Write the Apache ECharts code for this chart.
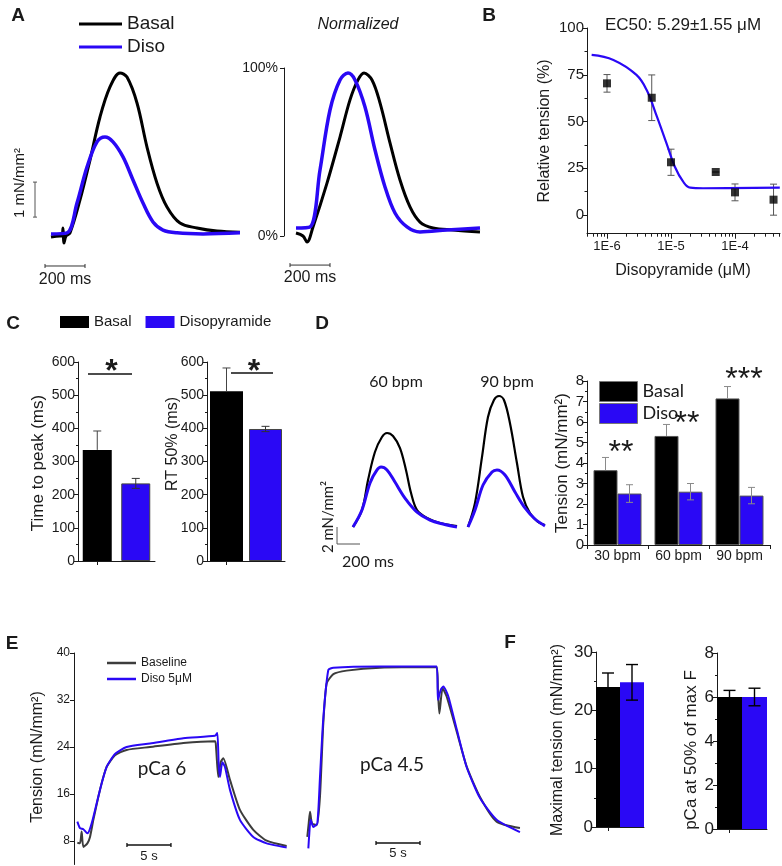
<!DOCTYPE html>
<html><head><meta charset="utf-8">
<script src="https://cdn.jsdelivr.net/npm/echarts@6/dist/echarts.min.js"></script>
<style>html,body{margin:0;padding:0;background:#fff}#c{width:782px;height:866px}</style>
</head><body><div id="c"></div>
<script>
// ===================== DATA =====================
// Panel A: twitch traces (time in ms, tension in mN/mm²)
const aRawBasalT = [0,45,55,60,65,75,95,145,195,245,295,345,380,430,480,530,580,645,730,830,945];
const aRawBasalV = [-0.03,0,0,0.23,-0.2,0,0.09,1.03,2.17,3.4,4.26,4.66,4.54,3.8,2.54,1.51,0.83,0.37,0.23,0.14,0.11];
const aRawDisoT = [0,80,130,180,230,270,310,360,410,460,510,560,630,760,945];
const aRawDisoV = [0.06,0.09,0.94,1.97,2.69,2.83,2.69,2.26,1.6,0.94,0.4,0.17,0.09,0.06,0.09];
// Panel A: normalized traces (time ms, % of peak)
const aNormBasalT = [0,35,55,85,155,220,270,310,340,380,420,470,520,570,620,685,785,920];
const aNormBasalV = [1.8,0,-3.6,5.4,31.5,58.9,81,92.9,97,92.9,79.2,55.4,33.3,17.3,8.3,4.8,3.6,2.4];
const aNormDisoT = [0,70,120,170,220,260,295,345,395,445,495,555,620,755,920];
const aNormDisoV = [4.8,5.4,39.3,75,92.9,97,92.9,76.8,51.2,29.2,13.7,5.4,2.4,3.6,4.8];
const aNormTicks = [0,100];
// Panel A scale bars: [x1,y1,x2,y2] in data units
const aRawScaleV = [[-80,0.54,-80,1.54]];
const aRawScaleH = [[-30,-0.857,170,-0.857]];
const aNormScaleH = [[-30,-17.3,170,-17.3]];

// Panel B: dose-response
const bConc = [1e-6,5e-6,1e-5,5e-5,1e-4,4e-4];
const bMean = [70.4,62.7,28.2,23.0,12.1,8.2];
const bSem  = [4.7,12.2,7.0,0,4.5,8.3];
const bFitLogConc = [-6.24,-5.90,-5.54,-5.38,-5.22,-5.07,-4.94,-4.81,-4.70,-4.50,-3.30];
const bFitTension = [85.6,82.9,74.9,66.8,52.6,38.3,25.8,17.8,14.6,14.3,14.6];
const bXTicks = [-6,-5,-4];
const bYTicks = [0,25,50,75,100];

// Panel C
const cCats = ['Basal','Disopyramide'];
const cTtpMean = [335,234];
const cTtpSem  = [57,15];
const cRtMean  = [512,398];
const cRtSem   = [70,8];

// Panel D traces (ms, mN/mm²)
const d60BasalT = [0,78,131,191,252,296,348,409,461,505,557,644,757,905];
const d60BasalV = [0,2.0,5.53,8.82,10.59,11.06,10.71,9.29,6.71,4.0,2.0,1.06,0.47,0.12];
const d60DisoT  = [0,78,148,209,244,296,365,452,557,670,783,905];
const d60DisoV  = [0,2.0,5.18,6.71,7.06,6.71,5.29,3.41,1.76,0.82,0.35,0];
const d90BasalT = [0,61,122,174,226,270,313,365,426,479,539,609,670];
const d90BasalV = [0,2.82,8.24,12.94,14.94,15.41,14.94,12.24,7.53,3.53,1.65,0.59,0.24];
const d90DisoT  = [0,61,131,209,252,322,409,496,583,670];
const d90DisoV  = [0,2.0,4.94,6.47,6.71,6.12,4.12,2.24,0.94,0.12];
const dScale = [[-139,0,-139,-2],[-139,-2,61,-2]];
// Panel D bars
const dCats = ['30 bpm','60 bpm','90 bpm'];
const dBasal = [3.65,5.32,7.15];
const dBasalSem = [0.62,0.56,0.58];
const dDiso = [2.51,2.6,2.41];
const dDisoSem = [0.43,0.4,0.4];

// Panel E: force traces (time s, tension mN/mm²)
const e6BaseT = [0.38,0.68,0.87,1.06,1.52,1.82,2.2,2.95,3.71,4.66,5.98,8.64,12.42,16.02,16.14,16.4,16.67,16.97,17.73,18.86,20.38,21.9,24.17];
const e6BaseV = [7.7,7.6,9.6,7.0,7.6,8.7,11.6,16.7,20.6,22.6,23.5,24.0,24.7,25.0,24.0,18.9,21.4,22.1,18.4,13.3,9.9,8.05,7.15];
const e6DisoT = [0.38,0.68,1.06,1.52,2.01,2.95,3.71,4.66,5.98,8.64,12.42,16.02,16.29,16.44,16.59,16.86,17.16,17.73,18.86,20.38,21.9,24.17];
const e6DisoV = [11.3,10.2,10.0,9.3,11.0,16.7,20.6,22.8,24.0,24.6,25.5,25.9,26.4,21.2,18.9,21.4,20.6,16.7,11.6,8.7,7.6,6.9];
const e45BaseT = [0.26,0.42,0.57,0.8,1.33,1.7,2.08,2.46,3.22,4.73,8.52,14.96,15.11,15.27,15.64,16.1,17.23,18.37,19.89,21.78,24.43];
const e45BaseV = [8.7,11.0,13.0,11.0,10.7,15.5,28.0,34.8,36.4,37.0,37.5,37.6,33.7,29.7,34.0,32.6,26.7,20.7,15.5,11.3,10.2];
const e45DisoT = [0.38,0.49,0.64,0.95,1.4,1.7,2.08,2.65,3.22,8.52,14.96,15.11,15.42,15.72,16.29,17.23,18.37,19.89,21.78,24.43];
const e45DisoV = [6.75,9.3,11.6,10.4,11.0,18.8,28.9,37.1,37.5,37.7,37.7,32.0,33.7,34.3,32.6,27.1,20.6,15.3,11.6,9.5];
const eYTicks = [8,16,24,32,40];
const e6Scale = [[6.02,7.32,11.02,7.32]];
const e45Scale = [[8.07,7.66,13.07,7.66]];

// Panel F
const fCats = ['Basal','Diso'];
const fTension = [24.0,24.8];
const fTensionSem = [2.4,3.05];
const fPca = [6.0,6.0];
const fPcaSem = [0.3,0.4];

// ===================== STYLE =====================
const FONT = '"Liberation Sans", Arial, sans-serif';
const FONT2 = 'Lato, "Open Sans", sans-serif';
const BLUE = '#2a08f5';
const GRAY = '#3c3c3c';
const AX = '#1a1a1a';
const TXT = '#1a1a1a';

const zip = (a, b) => a.map((v, i) => [v, b[i]]);

function hid(gi, min, max) { return {type:'value', gridIndex:gi, min, max, show:false}; }
function valAxis(gi, o) {
  const ax = {
    type:'value', gridIndex:gi, min:o.min, max:o.max, position:o.position,
    axisLine:{show:true, onZero:false, lineStyle:{color:AX, width:1}},
    axisTick:{show:true, inside:false, length:o.tickLen || 4, lineStyle:{color:AX, width:1}},
    axisLabel:{show:true, fontSize:o.fs || 14, color:TXT, fontFamily:FONT, margin:o.margin || 3},
    splitLine:{show:false}
  };
  if (o.interval) ax.interval = o.interval;
  if (o.custom) { ax.axisTick.customValues = o.custom; ax.axisLabel.customValues = o.custom; }
  if (o.fmt) ax.axisLabel.formatter = o.fmt;
  if (o.minor) ax.minorTick = {show:true, splitNumber:o.minor, length:2, lineStyle:{color:AX}};
  if (o.offset) ax.offset = o.offset;
  return ax;
}
function catAxis(gi, cats, o) {
  return {
    type:'category', gridIndex:gi, data:cats, position:'bottom',
    axisLine:{show:true, onZero:false, lineStyle:{color:AX, width:1}},
    axisTick:{show:true, alignWithLabel:!!o.align, length:4, lineStyle:{color:AX}},
    axisLabel:{show:!!o.labels, fontSize:o.fs || 14, color:TXT, fontFamily:FONT, margin:4},
    splitLine:{show:false}
  };
}
function line(name, xi, yi, t, v, color, width, smooth) {
  return {type:'line', name, xAxisIndex:xi, yAxisIndex:yi, data:zip(t, v), color,
    showSymbol:false, symbol:'none', smooth: smooth === undefined ? 0.35 : smooth,
    lineStyle:{color, width}, itemStyle:{color}, clip:false, silent:true, animation:false, z:3};
}
function errBars(xi, yi, xs, means, sems, o) {
  const data = xs.map((x, i) => [x, o.upperOnly ? means[i] : means[i] - sems[i], means[i] + sems[i]]);
  return {type:'custom', xAxisIndex:xi, yAxisIndex:yi, silent:true, animation:false, z:o.z || 4, clip:false,
    encode:{x:0, y:[1,2]}, data,
    renderItem:(p, api) => {
      const x = api.value(0), lo = api.value(1), hi = api.value(2);
      const a = api.coord([x, lo]), b = api.coord([x, hi]);
      const cx = a[0] + (o.offset || 0), w = o.cap;
      const st = {stroke:o.color, lineWidth:o.width || 1};
      const ch = [
        {type:'line', shape:{x1:cx, y1:a[1], x2:cx, y2:b[1]}, style:st},
        {type:'line', shape:{x1:cx - w, y1:b[1], x2:cx + w, y2:b[1]}, style:st}];
      if (!o.upperOnly) ch.push({type:'line', shape:{x1:cx - w, y1:a[1], x2:cx + w, y2:a[1]}, style:st});
      return {type:'group', children:ch};
    }};
}
function scaleBar(xi, yi, segs, o) {
  return {type:'custom', xAxisIndex:xi, yAxisIndex:yi, silent:true, animation:false, clip:false,
    encode:{x:[0,2], y:[1,3]}, data:segs,
    renderItem:(p, api) => {
      const a = api.coord([api.value(0), api.value(1)]), b = api.coord([api.value(2), api.value(3)]);
      const st = {stroke:o.color || '#333', lineWidth:o.width || 1};
      const ch = [{type:'line', shape:{x1:a[0], y1:a[1], x2:b[0], y2:b[1]}, style:st}];
      if (o.cap) {
        const c = o.cap;
        if (Math.abs(a[0] - b[0]) < 0.5) {
          ch.push({type:'line', shape:{x1:a[0]-c, y1:a[1], x2:a[0]+c, y2:a[1]}, style:st});
          ch.push({type:'line', shape:{x1:b[0]-c, y1:b[1], x2:b[0]+c, y2:b[1]}, style:st});
        } else {
          ch.push({type:'line', shape:{x1:a[0], y1:a[1]-c, x2:a[0], y2:a[1]+c}, style:st});
          ch.push({type:'line', shape:{x1:b[0], y1:b[1]-c, x2:b[0], y2:b[1]+c}, style:st});
        }
      }
      return {type:'group', children:ch};
    }};
}
function txt(x, y, text, size, o) {
  o = o || {};
  return {type:'text', x, y, rotation:o.rot || 0, z:100, silent:true,
    style:{text, fontSize:size, fontFamily:o.font || FONT, fontWeight:o.bold ? 'bold' : 'normal',
      fontStyle:o.italic ? 'italic' : 'normal', fill:o.color || TXT,
      textAlign:o.align || 'center', textVerticalAlign:'middle'}};
}
function hline(x1, x2, y) {
  return {type:'line', z:100, silent:true, shape:{x1, y1:y, x2, y2:y}, style:{stroke:'#111', lineWidth:1.3}};
}

// ===================== GRIDS =====================
const G = (left, top, width, height) => ({left, top, width, height, containLabel:false, outerBoundsMode:'none'});
const grids = [
  G(51, 61, 190, 175),      // 0 A raw
  G(296, 68, 184, 168),     // 1 A normalized
  G(587, 28, 193, 205.7),   // 2 B
  G(78, 362, 77, 199),      // 3 C ttp
  G(207, 362, 78, 199),     // 4 C rt50
  G(353, 382.5, 104, 144.5),// 5 D 60 bpm
  G(468, 382.5, 78, 144.5), // 6 D 90 bpm
  G(587, 381, 183, 164),    // 7 D bars
  G(74, 653, 216, 211.5),   // 8 E pCa6
  G(305, 653, 216, 211.5),  // 9 E pCa4.5
  G(596, 652, 48, 175),     // 10 F tension
  G(717, 653, 50, 176)      // 11 F pCa50
];

const bMinorX = [];
for (let n = -7; n <= -4; n++) for (let k = 2; k <= 9; k++) {
  const v = n + Math.log10(k);
  if (v > -6.3125 && v < -3.297) bMinorX.push(v);
}

const xAxes = [
  hid(0, 0, 950),
  hid(1, 0, 920),
  valAxis(2, {min:-6.3125, max:-3.297, custom:bXTicks, fmt:v => '1E' + v, fs:13, tickLen:5, margin:6, position:'bottom'}),
  catAxis(3, cCats, {align:true}),
  catAxis(4, cCats, {align:true}),
  hid(5, 0, 905),
  hid(6, 0, 679),
  catAxis(7, dCats, {labels:true, fs:14}),
  hid(8, 0, 24.55),
  hid(9, 0, 24.55),
  catAxis(10, fCats, {align:true}),
  catAxis(11, fCats, {align:true}),
  {type:'value', gridIndex:2, min:-6.3125, max:-3.297, position:'bottom', axisLine:{show:false, onZero:false}, axisLabel:{show:false},
   axisTick:{show:true, customValues:bMinorX, length:3, lineStyle:{color:AX}}, splitLine:{show:false}}
];
const yAxes = [
  hid(0, 0, 5),
  valAxis(1, {min:0, max:100, custom:aNormTicks, fmt:v => v + '%', fs:14, offset:12, margin:6, position:'left'}),
  valAxis(2, {min:-10, max:100, custom:bYTicks, fs:15, margin:3, position:'left'}),
  valAxis(3, {min:0, max:600, interval:100, minor:2, fs:14, position:'left'}),
  valAxis(4, {min:0, max:600, interval:100, minor:2, fs:14, position:'left'}),
  hid(5, 0, 17),
  hid(6, 0, 17),
  valAxis(7, {min:0, max:8, interval:1, minor:2, fs:15, position:'left'}),
  valAxis(8, {min:4, max:40, custom:eYTicks, fs:12, margin:4, position:'left'}),
  hid(9, 4, 40),
  valAxis(10, {min:0, max:30, interval:10, minor:2, fs:17, position:'left'}),
  valAxis(11, {min:0, max:8, interval:2, minor:2, fs:17, position:'left'}),
  {type:'value', gridIndex:2, min:-10, max:100, position:'left', axisLine:{show:false, onZero:false}, axisLabel:{show:false},
   axisTick:{show:true, customValues:[12.5,37.5,62.5,87.5], length:2.5, lineStyle:{color:AX}}, splitLine:{show:false}}
];

// ===================== SERIES =====================
const bar = (name, xi, yi, data, color, width, gap, border) => ({
  type:'bar', name, xAxisIndex:xi, yAxisIndex:yi, data, barWidth:width, barGap:gap, color,
  itemStyle:{color, borderColor:border || color, borderWidth:border ? 1 : 0}, silent:true, animation:false, z:2});

const series = [
  // A
  line('Basal', 0, 0, aRawBasalT, aRawBasalV, '#000', 3),
  line('Diso', 0, 0, aRawDisoT, aRawDisoV, BLUE, 3.5),
  line('Basal', 1, 1, aNormBasalT, aNormBasalV, '#000', 3),
  line('Diso', 1, 1, aNormDisoT, aNormDisoV, BLUE, 3.5),
  scaleBar(0, 0, aRawScaleV, {cap:2, color:'#555'}),
  scaleBar(0, 0, aRawScaleH, {cap:2, color:'#333'}),
  scaleBar(1, 1, aNormScaleH, {cap:2, color:'#333'}),
  // B
  errBars(2, 2, bConc.map(Math.log10), bMean, bSem, {cap:3.5, color:'#555', z:3}),
  line('fit', 2, 2, bFitLogConc, bFitTension, BLUE, 2.2, 0.4),
  {type:'scatter', xAxisIndex:2, yAxisIndex:2, data:zip(bConc.map(Math.log10), bMean), symbol:'rect', symbolSize:8,
   itemStyle:{color:'#000'}, silent:true, animation:false, z:5},
  // C
  bar('Basal', 3, 3, [cTtpMean[0], '-'], '#000', 29, '-100%'),
  bar('Disopyramide', 3, 3, ['-', cTtpMean[1]], BLUE, 29, '-100%', '#444'),
  errBars(3, 3, [0], [cTtpMean[0]], [cTtpSem[0]], {cap:4, color:'#444', upperOnly:true}),
  errBars(3, 3, [1], [cTtpMean[1]], [cTtpSem[1]], {cap:4, color:'#333'}),
  bar('Basal', 4, 4, [cRtMean[0], '-'], '#000', 33, '-100%'),
  bar('Disopyramide', 4, 4, ['-', cRtMean[1]], BLUE, 33, '-100%', '#444'),
  errBars(4, 4, [0], [cRtMean[0]], [cRtSem[0]], {cap:4, color:'#444', upperOnly:true}),
  errBars(4, 4, [1], [cRtMean[1]], [cRtSem[1]], {cap:4, color:'#333'}),
  // D traces
  line('Basal', 5, 5, d60BasalT, d60BasalV, '#000', 2.2),
  line('Diso', 5, 5, d60DisoT, d60DisoV, BLUE, 3),
  line('Basal', 6, 6, d90BasalT, d90BasalV, '#000', 2.2),
  line('Diso', 6, 6, d90DisoT, d90DisoV, BLUE, 3),
  scaleBar(5, 5, dScale, {color:'#555'}),
  // D bars
  bar('Basal', 7, 7, dBasal, '#000', 24, 0, '#555'),
  bar('Diso', 7, 7, dDiso, BLUE, 24, 0, '#555'),
  errBars(7, 7, [0,1,2], dBasal, dBasalSem, {cap:3.5, color:'#8a8a8a', upperOnly:true, offset:-12}),
  errBars(7, 7, [0,1,2], dDiso, dDisoSem, {cap:3.5, color:'#8a8a8a', offset:12}),
  // E
  line('Baseline', 8, 8, e6BaseT, e6BaseV, GRAY, 2, 0.2),
  line('Diso 5μM', 8, 8, e6DisoT, e6DisoV, BLUE, 2, 0.2),
  line('Baseline', 9, 9, e45BaseT, e45BaseV, GRAY, 2, 0.2),
  line('Diso 5μM', 9, 9, e45DisoT, e45DisoV, BLUE, 2, 0.2),
  scaleBar(8, 8, e6Scale, {cap:2, color:'#111', width:1.3}),
  scaleBar(9, 9, e45Scale, {cap:2, color:'#111', width:1.3}),
  // F
  bar('Basal', 10, 10, [fTension[0], '-'], '#000', 24, '-100%'),
  bar('Diso', 10, 10, ['-', fTension[1]], BLUE, 24, '-100%'),
  errBars(10, 10, [0], [fTension[0]], [fTensionSem[0]], {cap:6, color:'#000', width:1.4, upperOnly:true}),
  errBars(10, 10, [1], [fTension[1]], [fTensionSem[1]], {cap:6, color:'#000', width:1.4}),
  bar('Basal', 11, 11, [fPca[0], '-'], '#000', 25, '-100%'),
  bar('Diso', 11, 11, ['-', fPca[1]], BLUE, 25, '-100%'),
  errBars(11, 11, [0], [fPca[0]], [fPcaSem[0]], {cap:6, color:'#000', width:1.4, upperOnly:true}),
  errBars(11, 11, [1], [fPca[1]], [fPcaSem[1]], {cap:6, color:'#000', width:1.4})
];

// ===================== LEGENDS =====================
const legends = [
  {data:['Basal','Diso'], left:79, top:14.5, orient:'vertical', icon:'rect', itemWidth:43, itemHeight:3, itemGap:4,
   padding:0, selectedMode:false, itemStyle:{borderWidth:0}, textStyle:{fontSize:19, fontFamily:FONT, color:TXT}},
  {data:['Basal','Disopyramide'], left:60, top:314.5, orient:'horizontal', icon:'rect', itemWidth:29, itemHeight:12, itemGap:14,
   padding:0, selectedMode:false, itemStyle:{borderWidth:0}, textStyle:{fontSize:15, fontFamily:FONT, color:TXT}},
  {data:['Basal','Diso'], left:599, top:381, orient:'vertical', icon:'rect', itemWidth:38, itemHeight:20, itemGap:1,
   padding:0, selectedMode:false, itemStyle:{borderWidth:1, borderColor:'#777'}, textStyle:{fontSize:18, fontFamily:FONT2, color:TXT}},
  {data:['Baseline','Diso 5μM'], left:107, top:657, orient:'vertical', icon:'rect', itemWidth:29, itemHeight:2.5, itemGap:4,
   padding:0, selectedMode:false, itemStyle:{borderWidth:0}, textStyle:{fontSize:12, fontFamily:FONT, color:TXT}}
];

// ===================== TEXT ANNOTATIONS =====================
const R = Math.PI / 2;
const graphics = [
  txt(18, 16, 'A', 19, {bold:true}), txt(489, 16, 'B', 19, {bold:true}),
  txt(13, 324, 'C', 19, {bold:true}), txt(322, 324, 'D', 19, {bold:true}),
  txt(12, 644, 'E', 19, {bold:true}), txt(510, 643, 'F', 19, {bold:true}),
  // A
  txt(20, 183, '1 mN/mm²', 15, {rot:R}),
  txt(65, 280, '200 ms', 16),
  txt(310, 278, '200 ms', 16),
  txt(358, 25, 'Normalized', 16, {italic:true}),
  // B
  txt(683, 25, 'EC50: 5.29±1.55 μM', 17),
  txt(545, 131, 'Relative tension (%)', 16, {rot:R}),
  txt(683, 271, 'Disopyramide (μM)', 16),
  // C
  txt(38, 463, 'Time to peak (ms)', 17, {rot:R}),
  txt(173, 444, 'RT 50% (ms)', 16, {rot:R}),
  hline(88, 132, 374), hline(231, 273, 373),
  txt(111.5, 372, '*', 32, {bold:true}), txt(254, 372, '*', 32, {bold:true}),
  // D
  txt(396, 382, '60 bpm', 16, {font:FONT2}),
  txt(507, 382, '90 bpm', 16, {font:FONT2}),
  txt(328, 517, '2 mN/mm²', 15, {rot:R, font:FONT2}),
  txt(368, 562, '200 ms', 16, {font:FONT2}),
  txt(562, 463, 'Tension (mN/mm²)', 17, {rot:R}),
  txt(621, 453, '**', 32), txt(687, 424, '**', 32), txt(744, 380, '***', 32),
  // E
  txt(38, 757, 'Tension (mN/mm²)', 16, {rot:R}),
  txt(162, 769, 'pCa 6', 19, {font:FONT2}),
  txt(392, 765, 'pCa 4.5', 19, {font:FONT2}),
  txt(149, 856, '5 s', 13), txt(398, 853, '5 s', 13),
  // F
  txt(558, 740, 'Maximal tension (mN/mm²)', 16, {rot:R}),
  txt(691, 750, 'pCa at 50% of max F', 17, {rot:R})
];

const chart = echarts.init(document.getElementById('c'), null, {renderer:'canvas'});
chart.setOption({
  animation:false,
  backgroundColor:'#fff',
  textStyle:{fontFamily:FONT},
  grid:grids, xAxis:xAxes, yAxis:yAxes, series, legend:legends, graphic:graphics
});
</script></body></html>
